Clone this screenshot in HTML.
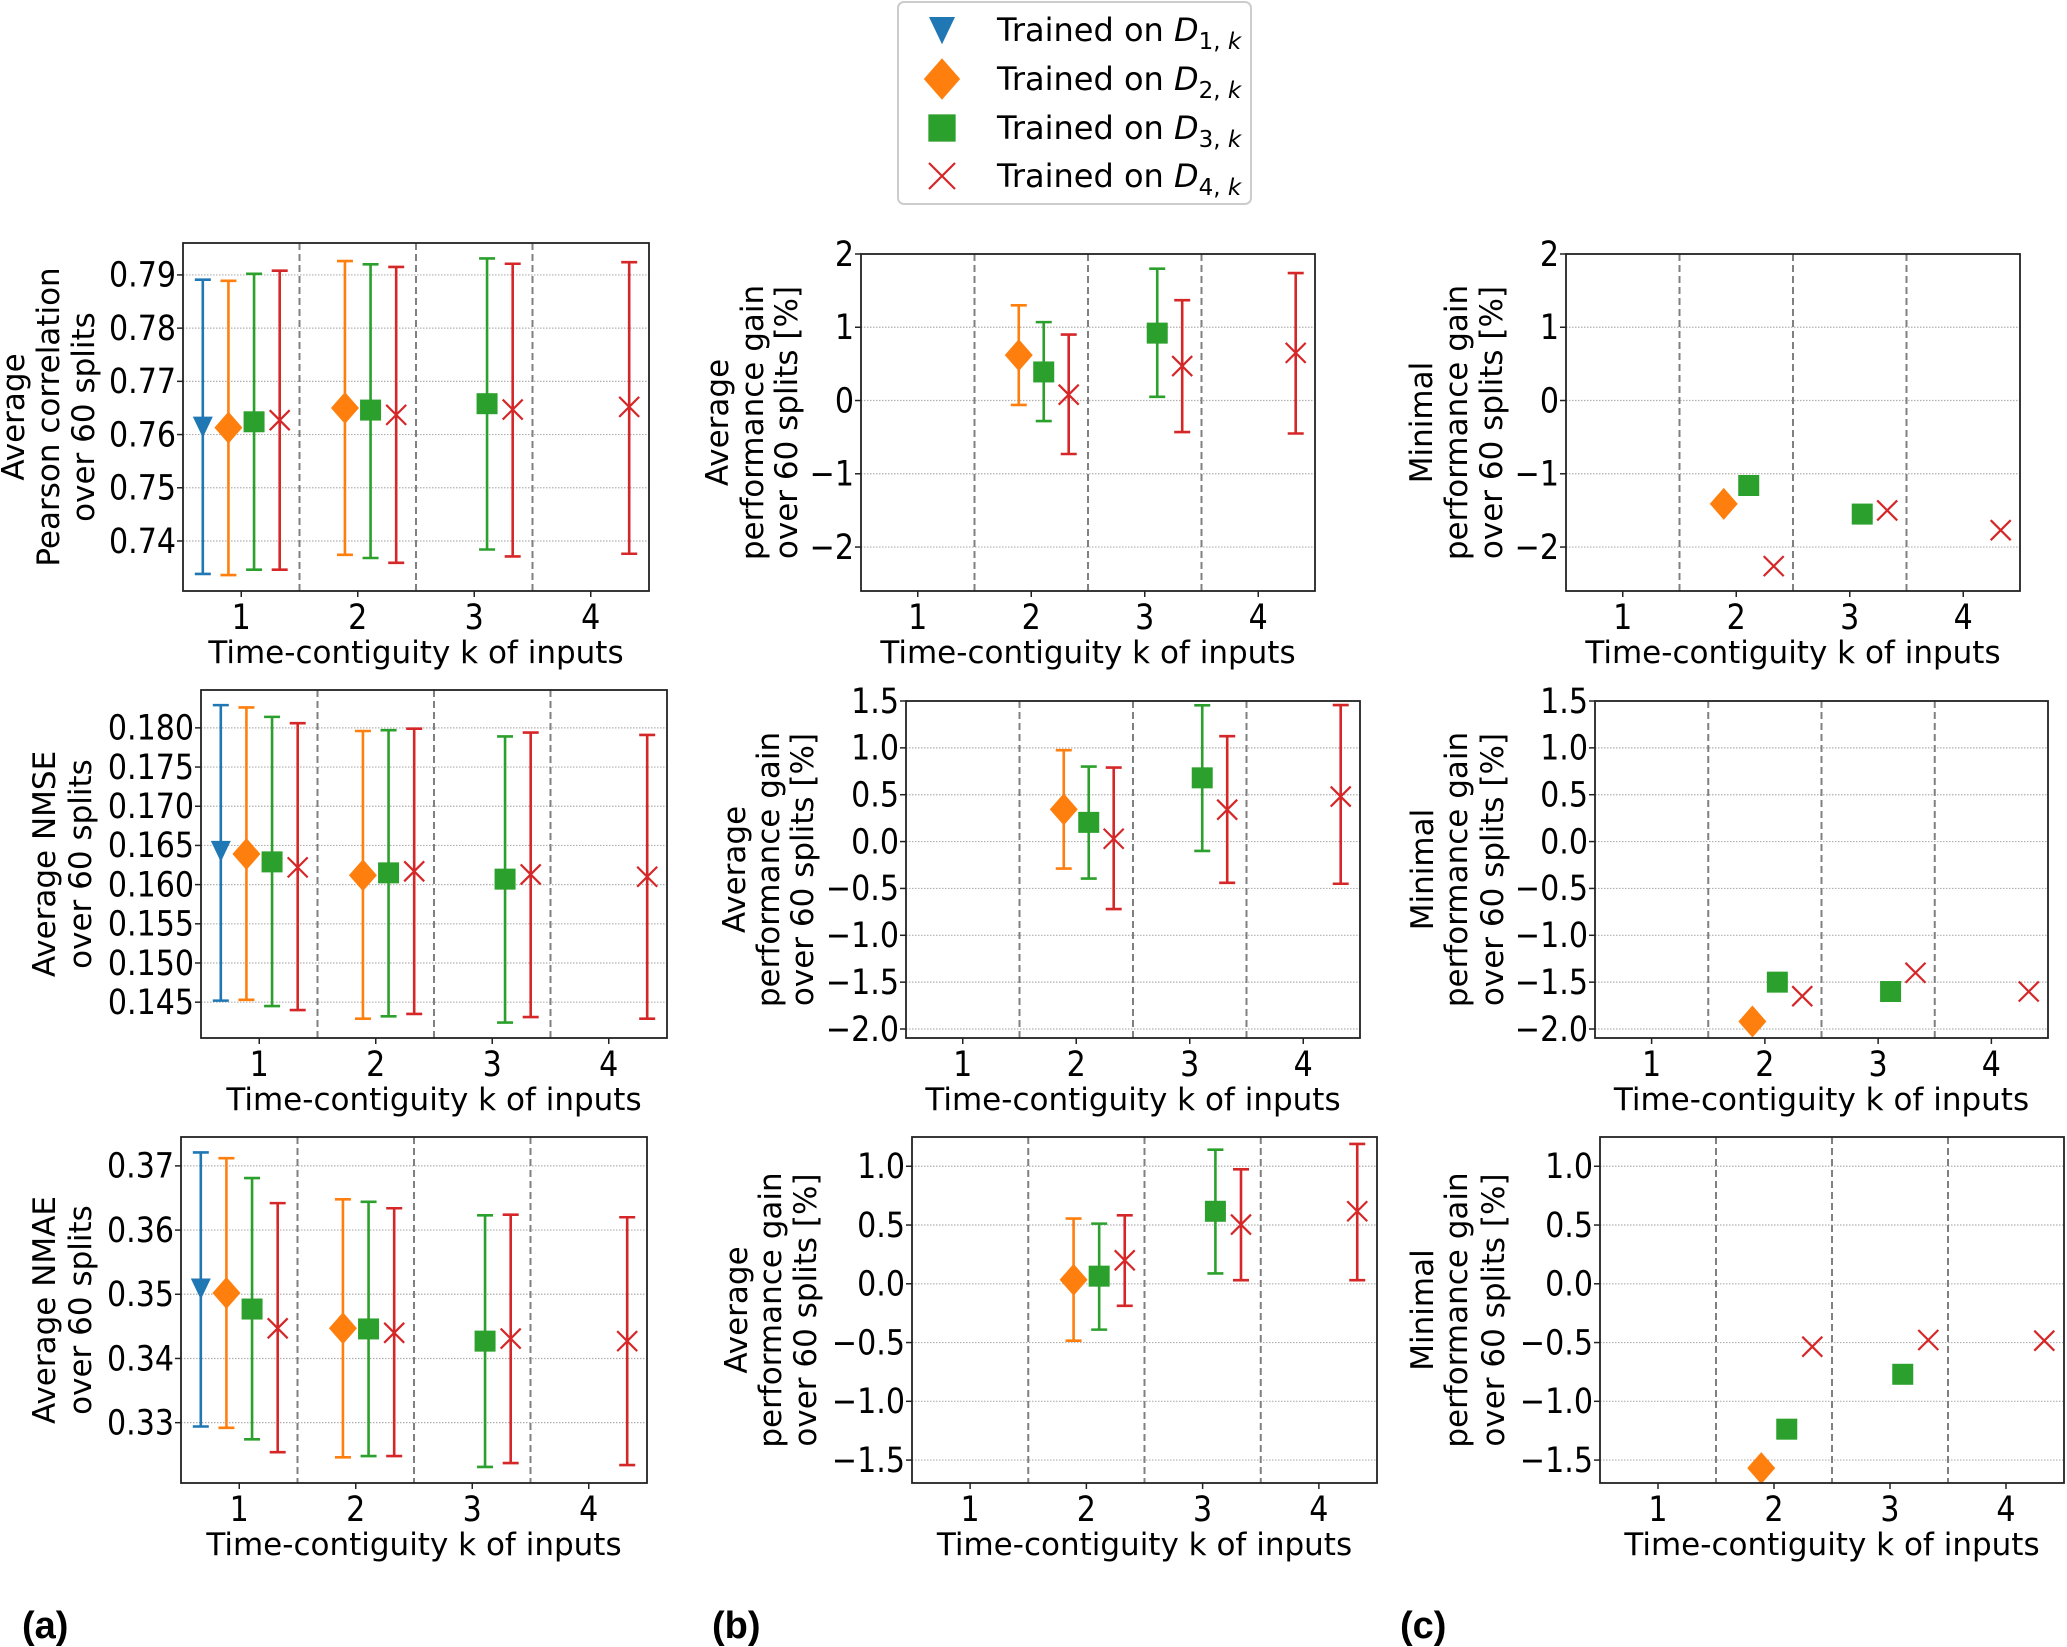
<!DOCTYPE html>
<html><head><meta charset="utf-8"><title>Performance vs time-contiguity</title>
<style>
html,body{margin:0;padding:0;background:#fff;}
svg{display:block;}
text{font-family:"DejaVu Sans","Liberation Sans",sans-serif;}
</style></head>
<body>
<svg id="fig" xmlns="http://www.w3.org/2000/svg" width="2067" height="1647" viewBox="0 0 2067 1647">
<rect x="0" y="0" width="2067" height="1647" fill="#fff"/>
</svg>
<script>
// ---- data (rows = series D1..D4, cols = k 1..4) ----
const kValues = [1, 2, 3, 4];
const seriesNames = ["D1", "D2", "D3", "D4"];
const pearsonMean = [[0.7615,null,null,null],[0.7613,0.7650,null,null],[0.7624,0.7646,0.7658,null],[0.7627,0.7637,0.7647,0.7652]];
const pearsonLow  = [[0.7338,null,null,null],[0.7336,0.7374,null,null],[0.7346,0.7368,0.7384,null],[0.7346,0.7359,0.7371,0.7376]];
const pearsonHigh = [[0.7891,null,null,null],[0.7889,0.7926,null,null],[0.7902,0.7920,0.7931,null],[0.7908,0.7915,0.7921,0.7924]];
const nmseMean = [[0.1643,null,null,null],[0.1639,0.1612,null,null],[0.1629,0.1615,0.1607,null],[0.1622,0.1617,0.1613,0.1610]];
const nmseLow  = [[0.1452,null,null,null],[0.1453,0.1429,null,null],[0.1445,0.1432,0.1424,null],[0.1440,0.1435,0.1431,0.1429]];
const nmseHigh = [[0.1829,null,null,null],[0.1826,0.1796,null,null],[0.1814,0.1797,0.1789,null],[0.1806,0.1799,0.1794,0.1791]];
const nmaeMean = [[0.3509,null,null,null],[0.3502,0.3447,null,null],[0.3477,0.3446,0.3427,null],[0.3447,0.3440,0.3431,0.3427]];
const nmaeLow  = [[0.3294,null,null,null],[0.3292,0.3246,null,null],[0.3274,0.3248,0.3231,null],[0.3254,0.3248,0.3237,0.3234]];
const nmaeHigh = [[0.3721,null,null,null],[0.3712,0.3648,null,null],[0.3681,0.3644,0.3623,null],[0.3642,0.3634,0.3624,0.3620]];
const gainPearsonMean = [[null,null,null,null],[null,0.62,null,null],[null,0.39,0.92,null],[null,0.08,0.47,0.65]];
const gainPearsonLow  = [[null,null,null,null],[null,-0.06,null,null],[null,-0.28,0.05,null],[null,-0.73,-0.43,-0.45]];
const gainPearsonHigh = [[null,null,null,null],[null,1.30,null,null],[null,1.07,1.80,null],[null,0.90,1.37,1.74]];
const gainNmseMean = [[null,null,null,null],[null,0.343,null,null],[null,0.205,0.68,null],[null,0.03,0.34,0.48]];
const gainNmseLow  = [[null,null,null,null],[null,-0.288,null,null],[null,-0.395,-0.10,null],[null,-0.72,-0.44,-0.45]];
const gainNmseHigh = [[null,null,null,null],[null,0.975,null,null],[null,0.80,1.454,null],[null,0.79,1.124,1.457]];
const gainNmaeMean = [[null,null,null,null],[null,0.034,null,null],[null,0.065,0.617,null],[null,0.20,0.504,0.617]];
const gainNmaeLow  = [[null,null,null,null],[null,-0.484,null,null],[null,-0.39,0.088,null],[null,-0.187,0.031,0.031]];
const gainNmaeHigh = [[null,null,null,null],[null,0.555,null,null],[null,0.512,1.141,null],[null,0.583,0.974,1.19]];
const minPearson = [[null,null,null,null],[null,-1.41,null,null],[null,-1.16,-1.55,null],[null,-2.26,-1.50,-1.77]];
const minNmse    = [[null,null,null,null],[null,-1.92,null,null],[null,-1.50,-1.60,null],[null,-1.65,-1.40,-1.60]];
const minNmae    = [[null,null,null,null],[null,-1.568,null,null],[null,-1.237,-0.77,null],[null,-0.535,-0.478,-0.484]];
const ticksPearson = [0.74,0.75,0.76,0.77,0.78,0.79];
const ticksNmse = [0.145,0.150,0.155,0.160,0.165,0.170,0.175,0.180];
const ticksNmae = [0.33,0.34,0.35,0.36,0.37];
const ticksGainInt = [-2,-1,0,1,2];
const ticksGainHalf = [-2.0,-1.5,-1.0,-0.5,0.0,0.5,1.0,1.5];
const ticksGainLow = [-1.5,-1.0,-0.5,0.0,0.5,1.0];

const COLORS = ["#1f77b4","#ff7f0e","#2ca02c","#d62728"];
const OFFSETS = [-0.33,-0.11,0.11,0.33];
const NS = "http://www.w3.org/2000/svg";
const svg = document.getElementById("fig");
const TICK_FS = 35, TITLE_FS = 31, SQUEEZE = 0.86;

function el(tag, attrs, parent) {
  const e = document.createElementNS(NS, tag);
  for (const k in attrs) e.setAttribute(k, attrs[k]);
  (parent || svg).appendChild(e);
  return e;
}
function fmt(v, d) { const s = v.toFixed(d); return s.replace("-", "\u2212"); }

function marker(g, type, x, y, big) {
  const s = big ? 1.3 : 1;
  let m;
  if (type === 0) {
    m = el("polygon", {points: `${x-10*s},${y-10*s} ${x+10*s},${y-10*s} ${x},${y+11*s}`, fill: COLORS[0]}, g);
  } else if (type === 1) {
    m = el("polygon", {points: `${x-14*s},${y} ${x},${y-16*s} ${x+14*s},${y} ${x},${y+16*s}`, fill: COLORS[1]}, g);
  } else if (type === 2) {
    m = el("rect", {x: x-10.5*s, y: y-10.5*s, width: 21*s, height: 21*s, fill: COLORS[2]}, g);
  } else {
    m = el("path", {d: `M${x-10*s},${y-10*s}L${x+10*s},${y+10*s}M${x-10*s},${y+10*s}L${x+10*s},${y-10*s}`, stroke: COLORS[3], "stroke-width": 2.2, fill: "none"}, g);
  }
  return m;
}

function panel(cfg) {
  const g = el("g", {});
  
  
  const L = cfg.box[0], R = cfg.box[1], T = cfg.box[2], B = cfg.box[3];
  const xs = v => L + (v - 0.5) / 4 * (R - L);
  const ys = v => B - (v - cfg.ylim[0]) / (cfg.ylim[1] - cfg.ylim[0]) * (B - T);
  cfg.ticks.forEach(t => {
    const gl = el("line", {x1: L, x2: R, y1: ys(t), y2: ys(t), stroke: "#b0b0b0", "stroke-width": 1.2, "stroke-dasharray": "1.5,1.5"}, g);
    
    
  });
  [1.5, 2.5, 3.5].forEach(v => {
    const sl = el("line", {x1: xs(v), x2: xs(v), y1: T, y2: B, stroke: "#808080", "stroke-width": 2, "stroke-dasharray": "7,4"}, g);
    
    
  });
  for (let s = 0; s < 4; s++) {
    for (let ki = 0; ki < kValues.length; ki++) {
      const v = cfg.mean[s][ki];
      if (v === null || v === undefined) continue;
      const x = xs(kValues[ki] + OFFSETS[s]);
      if (cfg.low) {
        const lo = ys(cfg.low[s][ki]), hi = ys(cfg.high[s][ki]);
        const eb = el("path", {d: `M${x},${lo}L${x},${hi}M${x-8},${lo}L${x+8},${lo}M${x-8},${hi}L${x+8},${hi}`, stroke: COLORS[s], "stroke-width": 2.6, fill: "none"}, g);
        
        
      }
      const m = marker(g, s, x, ys(v), false);
      
      
    }
  }
  const fr = el("rect", {x: L, y: T, width: R - L, height: B - T, fill: "none", stroke: "#222", "stroke-width": 1.8}, g);
  
  
  cfg.ticks.forEach(t => {
    el("line", {x1: L - 6, x2: L, y1: ys(t), y2: ys(t), stroke: "#222", "stroke-width": 1.5}, g);
    const tl = el("text", {x: 0, y: 0, "text-anchor": "end", "dominant-baseline": "central", "font-size": TICK_FS, fill: "#000", transform: `translate(${L - 7} ${ys(t)}) scale(${SQUEEZE} 1)`}, g);
    tl.textContent = fmt(t, cfg.dec);
    
    
  });
  kValues.forEach(k => {
    el("line", {x1: xs(k), x2: xs(k), y1: B, y2: B + 6, stroke: "#222", "stroke-width": 1.5}, g);
    const tl = el("text", {x: 0, y: 0, "text-anchor": "middle", "font-size": TICK_FS, fill: "#000", transform: `translate(${xs(k)} ${B + 38}) scale(${SQUEEZE} 1)`}, g);
    tl.textContent = String(k);
    
    
  });
  const xl = el("text", {x: (L + R) / 2, y: B + 72, "text-anchor": "middle", "font-size": TITLE_FS, fill: "#000"}, g);
  xl.textContent = "Time-contiguity k of inputs";
  
  
  const cy = (T + B) / 2;
  cfg.ylabel.forEach((line, i) => {
    const x = cfg.ylabelX[i];
    const yl = el("text", {x: x, y: cy, "text-anchor": "middle", "dominant-baseline": "central", "font-size": TITLE_FS, fill: "#000", transform: `rotate(-90 ${x} ${cy})`}, g);
    yl.textContent = line;
    
    
  });
}

panel({name: "panel-a-pearson", box: [183, 649, 243, 591], ylim: [0.7306, 0.7960], ticks: ticksPearson, dec: 2,
  mean: pearsonMean, low: pearsonLow, high: pearsonHigh, ylabel: ["Average", "Pearson correlation", "over 60 splits"], ylabelX: [14, 49, 84]});
panel({name: "panel-a-nmse", box: [201, 667, 690, 1038], ylim: [0.14043, 0.18483], ticks: ticksNmse, dec: 3,
  mean: nmseMean, low: nmseLow, high: nmseHigh, ylabel: ["Average NMSE", "over 60 splits"], ylabelX: [45, 81]});
panel({name: "panel-a-nmae", box: [181, 647, 1137, 1483], ylim: [0.3206, 0.3745], ticks: ticksNmae, dec: 2,
  mean: nmaeMean, low: nmaeLow, high: nmaeHigh, ylabel: ["Average NMAE", "over 60 splits"], ylabelX: [45, 81]});
panel({name: "panel-b-pearson-gain", box: [861, 1315, 254, 591], ylim: [-2.6, 2.0], ticks: ticksGainInt, dec: 0,
  mean: gainPearsonMean, low: gainPearsonLow, high: gainPearsonHigh, ylabel: ["Average", "performance gain", "over 60 splits [%]"], ylabelX: [718, 753, 787]});
panel({name: "panel-b-nmse-gain", box: [906, 1360, 701, 1038], ylim: [-2.096, 1.5], ticks: ticksGainHalf, dec: 1,
  mean: gainNmseMean, low: gainNmseLow, high: gainNmseHigh, ylabel: ["Average", "performance gain", "over 60 splits [%]"], ylabelX: [735, 769, 803]});
panel({name: "panel-b-nmae-gain", box: [912, 1377, 1137, 1483], ylim: [-1.695, 1.249], ticks: ticksGainLow, dec: 1,
  mean: gainNmaeMean, low: gainNmaeLow, high: gainNmaeHigh, ylabel: ["Average", "performance gain", "over 60 splits [%]"], ylabelX: [737, 771, 806]});
panel({name: "panel-c-pearson-min", box: [1566, 2020, 254, 591], ylim: [-2.6, 2.0], ticks: ticksGainInt, dec: 0,
  mean: minPearson, ylabel: ["Minimal", "performance gain", "over 60 splits [%]"], ylabelX: [1422, 1457, 1492]});
panel({name: "panel-c-nmse-min", box: [1595, 2048, 701, 1038], ylim: [-2.096, 1.5], ticks: ticksGainHalf, dec: 1,
  mean: minNmse, ylabel: ["Minimal", "performance gain", "over 60 splits [%]"], ylabelX: [1423, 1457, 1493]});
panel({name: "panel-c-nmae-min", box: [1600, 2064, 1137, 1483], ylim: [-1.695, 1.249], ticks: ticksGainLow, dec: 1,
  mean: minNmae, ylabel: ["Minimal", "performance gain", "over 60 splits [%]"], ylabelX: [1423, 1457, 1494]});

// legend
const lg = el("g", {});


el("rect", {x: 898, y: 2, width: 353, height: 202, rx: 6, ry: 6, fill: "#fff", stroke: "#cccccc", "stroke-width": 2}, lg);
const legendY = [30, 79, 128, 176];
for (let s = 0; s < 4; s++) {
  const ent = el("g", {}, lg);
  
  
  marker(ent, s, 942, legendY[s], true);
  const t = el("text", {x: 997, y: legendY[s] + 11, "font-size": 32, fill: "#000"}, ent);
  t.appendChild(document.createTextNode("Trained on "));
  const d = el("tspan", {"font-style": "italic"}, t); d.textContent = "D";
  const sub = el("tspan", {"font-size": 23, dy: 8}, t); sub.textContent = (s + 1) + ", ";
  const kk = el("tspan", {"font-size": 23, "font-style": "italic"}, t); kk.textContent = "k";
}

[["(a)", 22], ["(b)", 712], ["(c)", 1400]].forEach(p => {
  const t = el("text", {x: p[1], y: 1638, "font-size": 38, "font-weight": "bold", fill: "#000", style: "font-family:'Liberation Sans',sans-serif"});
  t.textContent = p[0];
  
  
});
</script>
</body></html>
